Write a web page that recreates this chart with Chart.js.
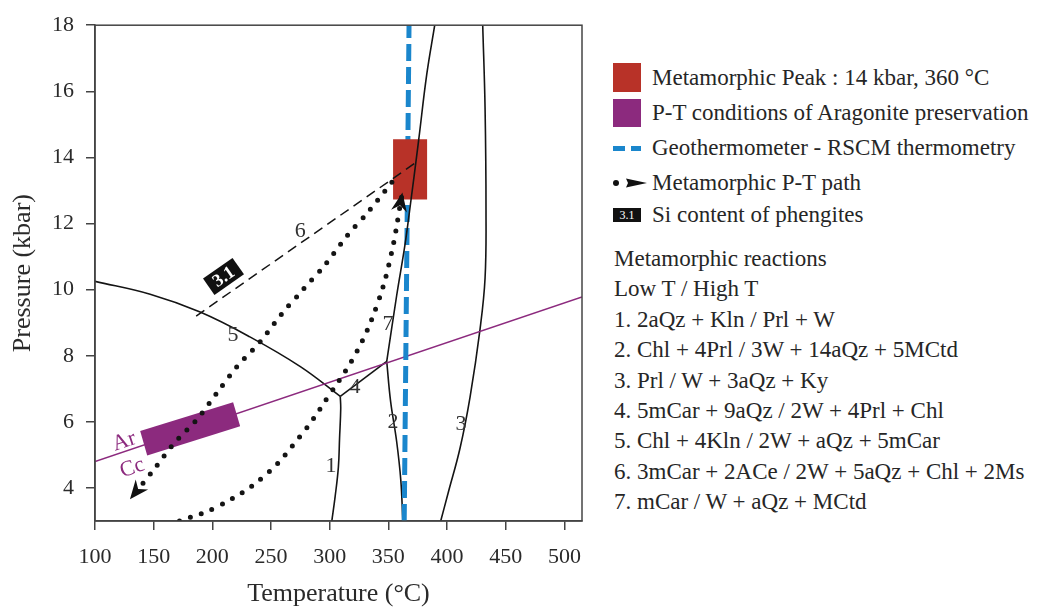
<!DOCTYPE html>
<html>
<head>
<meta charset="utf-8">
<script src="https://cdn.jsdelivr.net/npm/chart.js@4.4.1/dist/chart.umd.min.js"></script>
<style>
  body { margin: 0; background: #fff; font-family: "Liberation Serif", "Times New Roman", serif; color: #262626; }
  #wrap { position: relative; width: 1037px; height: 610px; overflow: hidden; }
  #pt { position: absolute; left: 0; top: 0; }
  .row { position: absolute; left: 0; height: 30px; line-height: 30px; font-size: 23px; white-space: nowrap; }
  .row .txt { position: absolute; left: 652px; }
  .sym { position: absolute; left: 613px; }
  .rx { position: absolute; left: 614px; top: 244px; font-size: 23px; line-height: 30.4px; white-space: nowrap; }
</style>
</head>
<body>
<div id="wrap">
  <canvas id="pt" width="600" height="610"></canvas>

  <div class="row" style="top:63px">
    <span class="sym" style="top:0px;width:28px;height:29px;background:#b83228"></span>
    <span class="txt">Metamorphic Peak : 14 kbar, 360 °C</span>
  </div>
  <div class="row" style="top:98px">
    <span class="sym" style="top:1px;width:28px;height:28px;background:#8c2a7e"></span>
    <span class="txt">P-T conditions of Aragonite preservation</span>
  </div>
  <div class="row" style="top:133px">
    <span class="sym" style="top:13px;width:12px;height:5px;background:#1a86cc"></span>
    <span class="sym" style="left:631px;top:13px;width:10px;height:5px;background:#1a86cc"></span>
    <span class="txt">Geothermometer - RSCM thermometry</span>
  </div>
  <div class="row" style="top:168px">
    <svg class="sym" style="left:611px;top:8px" width="40" height="14">
      <circle cx="5" cy="7" r="3" fill="#111"/>
      <path d="M17 7 L15 2.5 L36 7 L15 11.5 Z" fill="#111"/>
    </svg>
    <span class="txt">Metamorphic P-T path</span>
  </div>
  <div class="row" style="top:200px">
    <span class="sym" style="top:8px;width:28px;height:14px;background:#111;color:#fff;font-size:12px;line-height:14px;text-align:center">3.1</span>
    <span class="txt">Si content of phengites</span>
  </div>

  <div class="rx">
    <div>Metamorphic reactions</div>
    <div>Low T / High T</div>
    <div>1. 2aQz + Kln / Prl + W</div>
    <div>2. Chl + 4Prl / 3W + 14aQz + 5MCtd</div>
    <div>3. Prl / W + 3aQz + Ky</div>
    <div>4. 5mCar + 9aQz / 2W + 4Prl + Chl</div>
    <div>5. Chl + 4Kln / 2W + aQz + 5mCar</div>
    <div>6. 3mCar + 2ACe / 2W + 5aQz + Chl + 2Ms</div>
    <div>7. mCar / W + aQz + MCtd</div>
  </div>
</div>

<script>
// axis ticks
const tempTicks = [100, 150, 200, 250, 300, 350, 400, 450, 500];
const pressTicks = [4, 6, 8, 10, 12, 14, 16, 18];

// reaction curves [T °C, P kbar]
const rxn1 = [[309, 6.77], [309.4, 6.4], [308.4, 5.5], [307.4, 4.63], [304.6, 3.73], [301.8, 3.0]];
const rxn2 = [[348.6, 7.83], [351.9, 6.62], [357, 5.42], [360.6, 4.23], [362.3, 3.0]];
const rxn3 = [[430.4, 18], [432.4, 15.48], [433.2, 12.4], [432.4, 10.35], [428.1, 8.8], [419.6, 6.75], [411.1, 5.21], [401.1, 3.87], [394.6, 3.0]];
const rxn4 = [[309, 6.77], [348.6, 7.83]];
const rxn5 = [[100, 10.25], [147, 9.86], [189.6, 9.32], [232, 8.57], [275, 7.67], [309, 6.77]];
const rxn6 = [[186.2, 9.2], [375.6, 13.9]];
const rxn7 = [[348.6, 7.83], [357.1, 9.83], [364.2, 11.37], [368.5, 12.5], [375.6, 14.46], [382.7, 16.51], [389.5, 18]];
const arCc = [[100, 4.8], [515, 9.78]];
const rscm = [[363.5, 3], [367.6, 18]];

// boxes
const peakBox = [[354, 12.73], [383, 12.73], [383, 14.55], [354, 14.55], [354, 12.73]];
const aragoniteBox = [[138.5, 5.72], [217.7, 6.59], [223.7, 5.87], [144.5, 4.98], [138.5, 5.72]];

// P-T path (dotted)
const progradePath = [[172, 3.0], [204, 3.43], [243, 4.32], [275, 5.57], [300, 6.83], [323, 8.12], [340, 9.5], [352, 11.0], [361.5, 12.85]];
const retroPath = [[353, 13.25], [333, 12.36], [314.6, 11.62], [296, 10.75], [277.3, 10.0], [259.2, 9.27], [240.7, 8.42], [220.9, 7.67], [203.8, 6.87], [186.8, 6.07], [166.9, 5.33], [148.5, 4.48], [131.4, 3.73]];

// labels on the diagram
const rxnLabels = ['1', '2', '3', '4', '5', '6', '7'];
const rxnLabelAt = [[301.1, 4.65], [353.9, 5.99], [411.9, 5.93], [321.6, 7.04], [217.7, 8.63], [274.8, 11.77], [349.7, 8.96]];
const phaseLabels = ['Ar', 'Cc'];
const phaseLabelAt = [[124.9, 5.4], [131.7, 4.6]];
const siLabel = '3.1';
const siLabelAt = [209.5, 10.4];

const xy = a => a.map(([x, y]) => ({ x, y }));

function line(data, extra) {
  return Object.assign({
    data: xy(data), showLine: true, pointRadius: 0, borderColor: '#141414',
    borderWidth: 1.6, fill: false, tension: 0.4
  }, extra);
}

const datasets = [
  line(retroPath, { borderWidth: 5, borderDash: [0, 11.5], borderCapStyle: 'round', tension: 0.3, arrow: true, order: 1 }),
  line(progradePath, { borderWidth: 5, borderDash: [0, 11.5], borderCapStyle: 'round', tension: 0.4, arrow: true, order: 1 }),
  line(rxn7, { order: 2 }),
  line(rxn6, { borderDash: [10, 6], borderWidth: 1.5, tension: 0, order: 2 }),
  line(peakBox, { borderWidth: 0, backgroundColor: '#b83228', fill: 'shape', tension: 0, order: 3 }),
  line(rscm, { borderColor: '#1a86cc', borderWidth: 5, borderDash: [17, 6], tension: 0, order: 4 }),
  line(aragoniteBox, { borderWidth: 0, backgroundColor: '#8c2a7e', fill: 'shape', tension: 0, order: 5 }),
  line(arCc, { borderColor: '#8c2a7e', borderWidth: 1.6, tension: 0, order: 6 }),
  line(rxn1, { order: 6 }),
  line(rxn2, { order: 6 }),
  line(rxn3, { order: 6 }),
  line(rxn4, { tension: 0, order: 6 }),
  line(rxn5, { order: 6 })
];

const serif = '"Liberation Serif", "Times New Roman", serif';

const frame = {
  id: 'frame',
  afterDraw(chart) {
    const { ctx, chartArea: a } = chart;
    ctx.save();
    ctx.strokeStyle = '#444';
    ctx.lineWidth = 1.5;
    ctx.strokeRect(a.left, a.top, a.right - a.left, a.bottom - a.top);
    ctx.restore();
  }
};

const annotate = {
  id: 'annotate',
  afterDatasetsDraw(chart) {
    const { ctx, scales: { x, y } } = chart;
    const px = p => [x.getPixelForValue(p[0]), y.getPixelForValue(p[1])];
    ctx.save();

    // arrowheads at path ends
    chart.data.datasets.forEach(ds => {
      if (!ds.arrow) return;
      const pts = ds.data;
      const [x0, y0] = px([pts[pts.length - 2].x, pts[pts.length - 2].y]);
      const [x1, y1] = px([pts[pts.length - 1].x, pts[pts.length - 1].y]);
      const ang = Math.atan2(y1 - y0, x1 - x0);
      ctx.save();
      ctx.translate(x1, y1);
      ctx.rotate(ang);
      ctx.beginPath();
      ctx.moveTo(3, 0);
      ctx.lineTo(-16, -8);
      ctx.lineTo(-10, 0);
      ctx.lineTo(-16, 8);
      ctx.closePath();
      ctx.fillStyle = '#111';
      ctx.fill();
      ctx.restore();
    });

    // reaction numbers
    ctx.fillStyle = '#333';
    ctx.font = '22px ' + serif;
    ctx.textAlign = 'center';
    ctx.textBaseline = 'middle';
    rxnLabels.forEach((t, i) => {
      const [lx, ly] = px(rxnLabelAt[i]);
      ctx.fillText(t, lx, ly);
    });

    // Ar / Cc along the purple line
    const [ax0, ay0] = px(arCc[0]);
    const [ax1, ay1] = px(arCc[1]);
    const lineAng = Math.atan2(ay1 - ay0, ax1 - ax0);
    ctx.fillStyle = '#8c2a7e';
    phaseLabels.forEach((t, i) => {
      const [lx, ly] = px(phaseLabelAt[i]);
      ctx.save();
      ctx.translate(lx, ly);
      ctx.rotate(lineAng);
      ctx.fillText(t, 0, 0);
      ctx.restore();
    });

    // Si content box along reaction 6
    const [sx0, sy0] = px(rxn6[0]);
    const [sx1, sy1] = px(rxn6[1]);
    const [bx, by] = px(siLabelAt);
    ctx.save();
    ctx.translate(bx, by);
    ctx.rotate(Math.atan2(sy1 - sy0, sx1 - sx0));
    ctx.fillStyle = '#111';
    ctx.fillRect(-18, -10, 36, 20);
    ctx.fillStyle = '#fff';
    ctx.font = 'bold 18px ' + serif;
    ctx.fillText(siLabel, 0, 1);
    ctx.restore();

    ctx.restore();
  }
};

const tickFont = { family: serif, size: 22 };
const titleFont = { family: serif, size: 26 };

new Chart(document.getElementById('pt'), {
  type: 'scatter',
  data: { datasets },
  options: {
    responsive: false,
    animation: false,
    layout: { padding: { top: 20, right: 18, left: 0, bottom: 0 } },
    plugins: { legend: { display: false }, tooltip: { enabled: false } },
    scales: {
      x: {
        type: 'linear', min: 100, max: 515,
        afterBuildTicks: s => { s.ticks = tempTicks.map(v => ({ value: v })); },
        afterFit: s => { s.height = 89; },
        grid: { drawOnChartArea: false, tickLength: 9, color: '#444', lineWidth: 1.5 },
        border: { color: '#444', width: 1.5 },
        ticks: { font: tickFont, color: '#2a2a2a', padding: 14, maxRotation: 0 },
        title: { display: true, text: 'Temperature (°C)', font: titleFont, color: '#2a2a2a', padding: { top: 0, bottom: 0 } }
      },
      y: {
        type: 'linear', min: 3, max: 18,
        afterBuildTicks: s => { s.ticks = pressTicks.map(v => ({ value: v })); },
        afterFit: s => { s.width = 95; },
        grid: { drawOnChartArea: false, tickLength: 9, color: '#444', lineWidth: 1.5 },
        border: { color: '#444', width: 1.5 },
        ticks: { font: tickFont, color: '#2a2a2a', padding: 12 },
        title: { display: true, text: 'Pressure (kbar)', font: titleFont, color: '#2a2a2a', padding: { top: 8, bottom: 0 } }
      }
    }
  },
  plugins: [frame, annotate]
});
</script>
</body>
</html>
